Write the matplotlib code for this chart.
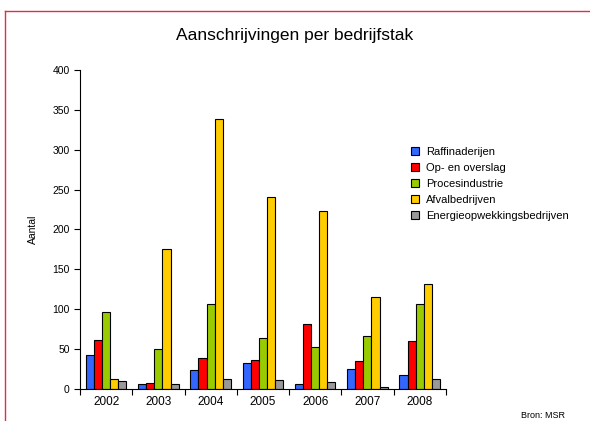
import numpy as np
import matplotlib.pyplot as plt
from matplotlib.lines import Line2D

plt.rcParams['font.family'] = ['Liberation Sans', 'DejaVu Sans']

# Data
years = ['2002', '2003', '2004', '2005', '2006', '2007', '2008']
series = ['Raffinaderijen', 'Op- en overslag', 'Procesindustrie',
          'Afvalbedrijven', 'Energieopwekkingsbedrijven']
raffinaderijen = [43, 6, 24, 33, 6, 25, 17]
overslag = [62, 7, 39, 36, 82, 35, 60]
procesindustrie = [97, 50, 106, 64, 53, 66, 106]
afval = [13, 176, 338, 241, 223, 115, 131]
energie = [10, 6, 13, 11, 9, 3, 12]
colors = ['#3366ff', '#ff0000', '#99cc00', '#ffcc00', '#999999']

fig = plt.figure(figsize=(5.9, 4.21), dpi=100)
ax = fig.add_axes([0.1356, 0.076, 0.62, 0.758])

x = np.arange(len(years))
w = 0.155
all_vals = [raffinaderijen, overslag, procesindustrie, afval, energie]
for i, (vals, c, lab) in enumerate(zip(all_vals, colors, series)):
    ax.bar(x + (i - 2) * w, vals, w, color=c, edgecolor='black',
           linewidth=0.8, label=lab)

ax.set_xlim(-0.5, 6.5)
ax.set_ylim(0, 400)
ax.set_yticks(range(0, 401, 50))
ax.set_xticks(x)
ax.set_xticklabels(years)
ax.set_xticks(np.arange(-0.5, 7, 1), minor=True)
ax.tick_params(axis='x', which='major', length=0, labelsize=8.5, pad=5)
ax.tick_params(axis='x', which='minor', length=4, width=0.8, direction='out')
ax.tick_params(axis='y', labelsize=7.5, length=4, width=0.8)
ax.spines['top'].set_visible(False)
ax.spines['right'].set_visible(False)
ax.set_ylabel('Aantal', fontsize=7.5, labelpad=10)

fig.text(0.5, 0.915, 'Aanschrijvingen per bedrijfstak', ha='center',
         va='center', fontsize=12.5)
fig.text(0.958, 0.003, 'Bron: MSR', ha='right', va='bottom', fontsize=6.5)

ax.legend(loc='upper left', bbox_to_anchor=(0.68, 0.675),
          bbox_transform=fig.transFigure, frameon=False, fontsize=8,
          handlelength=0.7, handleheight=0.7, handletextpad=0.6,
          labelspacing=0.55)

# red frame
fig.add_artist(Line2D([0.008, 1.0], [0.975, 0.975], color='#dc2f4b',
                      linewidth=1, transform=fig.transFigure))
fig.add_artist(Line2D([0.008, 0.008], [0.0, 0.975], color='#dc2f4b',
                      linewidth=1, transform=fig.transFigure))

fig.savefig('out.png', dpi=100)
